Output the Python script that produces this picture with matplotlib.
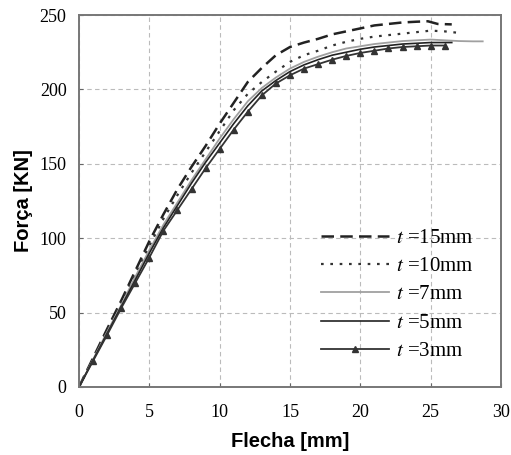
import matplotlib
matplotlib.use('Agg')
import matplotlib.pyplot as plt

# load-deflection curves for each thickness t
x15 = [0, 1, 2, 3, 4, 5, 6, 7, 8, 9, 10, 11, 12, 13, 14, 15, 16, 17, 18, 19, 20, 21, 22, 23, 24, 24.8, 25.5, 26.5]
y15 = [0, 19.5, 39, 58, 78, 98, 116, 133, 148, 162, 177, 191, 205, 214.5, 223, 228.5, 231.5, 234, 237, 239, 241, 243, 244, 245, 245.5, 245.8, 244, 243.7]

x10 = [0, 1, 2, 3, 4, 5, 6, 7, 8, 9, 10, 11, 12, 13, 14, 15, 16, 17, 18, 19, 20, 21, 22, 23, 24, 25, 26, 27]
y10 = [0, 19, 38, 57, 76, 95, 113, 129, 144, 158, 172, 186, 197, 205, 212, 218.5, 223, 226, 229.5, 232, 234, 235.5, 236.5, 237.5, 238.5, 239.5, 239, 238]

x7 = [0, 1, 2, 3, 4, 5, 6, 7, 8, 9, 10, 11, 12, 13, 14, 15, 16, 17, 18, 19, 20, 21, 22, 23, 24, 25, 26, 27, 28, 28.7]
y7 = [0, 18.5, 37, 55, 74, 92, 109, 124, 139, 153, 167, 180, 192, 201, 208, 214, 218.5, 222, 225, 227.5, 229, 230.5, 231.5, 232.5, 233, 233.5, 233, 232.5, 232.3, 232.3]

x5 = [0, 1, 2, 3, 4, 5, 6, 7, 8, 9, 10, 11, 12, 13, 14, 15, 16, 17, 18, 19, 20, 21, 22, 23, 24, 25, 26, 26.5]
y5 = [0, 18, 36, 54, 72, 90, 107, 122, 137, 151, 164, 177, 189, 199, 206, 212, 216.5, 220, 223, 225, 227, 228.5, 229.5, 230.5, 231, 231.5, 231.5, 231.5]

x3 = [0, 1, 2, 3, 4, 5, 6, 7, 8, 9, 10, 11, 12, 13, 14, 15, 16, 17, 18, 19, 20, 21, 22, 23, 24, 25, 26]
y3 = [0, 17.5, 35, 53, 70, 87, 105, 119, 133, 147, 160, 173, 185, 196, 204, 209.5, 214, 217, 220, 222.5, 224.5, 226, 227.5, 228.5, 229, 229.5, 229.5]

labels = [r'$t$ =15mm', r'$t$ =10mm', r'$t$ =7mm', r'$t$ =5mm', r'$t$ =3mm']

plt.rcParams['font.family'] = 'Liberation Serif'
plt.rcParams['mathtext.fontset'] = 'stix'

fig = plt.figure(figsize=(5.11, 4.55), dpi=100)
ax = fig.add_axes([0.1546, 0.1495, 0.8258, 0.8175])

ax.plot(x15, y15, color='#222222', linestyle=(0, (5, 2.5)), linewidth=1.8, label=labels[0])
ax.plot(x10, y10, color='#333333', linestyle=(0, (1.2, 3)), linewidth=1.6, label=labels[1])
ax.plot(x7, y7, color='#a0a0a0', linestyle='-', linewidth=1.3, label=labels[2])
ax.plot(x5, y5, color='#222222', linestyle='-', linewidth=1.2, label=labels[3])
ax.plot(x3, y3, color='#333333', linestyle='-', linewidth=1.3, marker='^',
        markersize=5, label=labels[4])

ax.set_xlim(0, 30)
ax.set_ylim(0, 250)
ax.set_xticks([0, 5, 10, 15, 20, 25, 30])
ax.set_yticks([0, 50, 100, 150, 200, 250])
ax.tick_params(direction='in', length=3, labelsize=13, color='#666666')
ax.tick_params(axis='x', pad=12)
ax.tick_params(axis='y', pad=9)
for s in ax.spines.values():
    s.set_color('#777777')
    s.set_linewidth(1.4)

ax.grid(color='#bbbbbb', linestyle=(0, (4, 3)), linewidth=0.8)
ax.set_axisbelow(True)

ax.set_xlabel('Flecha [mm]', family='Liberation Sans', fontweight='bold', fontsize=14.5, labelpad=8)
ax.set_ylabel('Força [KN]', family='Liberation Sans', fontweight='bold', fontsize=14.5, labelpad=5)

leg = ax.legend(loc='lower right', bbox_to_anchor=(0.98, 0.019), frameon=False,
                fontsize=15, handlelength=3.25, labelspacing=0.42, handletextpad=0.35)

fig.savefig('out.png', dpi=100)
